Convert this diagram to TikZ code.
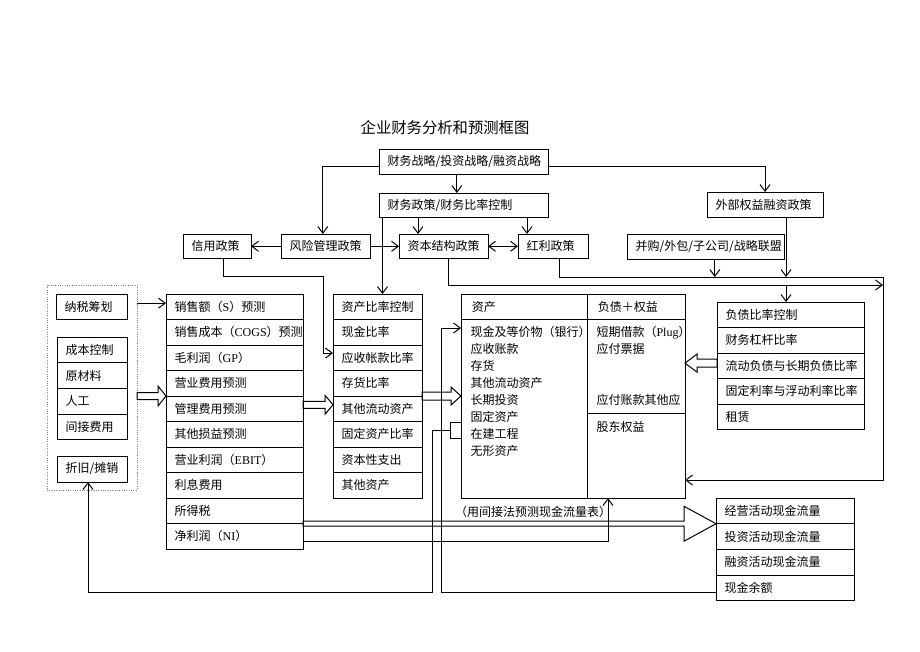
\documentclass[tikz,border=0pt]{standalone}
\usepackage{fontspec}
\setmainfont{Noto Sans CJK SC}
\newfontfamily\enfont{Liberation Serif}
\newcommand\latn[1]{{\enfont #1}}
\usetikzlibrary{arrows.meta}

\tikzset{every picture/.style={line width=0.75pt}}
\tikzset{
  cell/.style={draw, anchor=north west, inner xsep=6.5pt, inner ysep=0pt, outer sep=0pt, align=left},
  topbox/.style={cell, text width=113.75pt},
  isrow/.style={cell, text width=89.75pt, minimum height=19.125pt},
  arrow row/.style={cell, text width=53.75pt, minimum height=19.125pt},
  debtrow/.style={cell, text width=97.25pt, minimum height=19.125pt},
  cfrow/.style={cell, text width=90.5pt, minimum height=19.3pt},
  costrow/.style={cell, text width=39.5pt, minimum height=19.3pt},
  arw/.style={-{Straight Barb[length=5pt,width=7.5pt]}},
  arwboth/.style={{Straight Barb[length=5pt,width=7.5pt]}-{Straight Barb[length=5pt,width=7.5pt]}},
}

\begin{document}
\begin{tikzpicture}[x=0.75pt,y=0.75pt,yscale=-1,xscale=1,font=\fontsize{9}{12.75}\selectfont]
\useasboundingbox (0,0) rectangle (920,651);

% Text Node
\node (title) at (445,128) {\fontsize{11.5}{14}\selectfont 企业财务分析和预测框图};

%Shape: Rectangle (policy boxes)
\node[topbox, minimum height=18.75pt] (strat) at (379,149) {财务战略/投资战略/融资战略};
\node[topbox, minimum height=18pt] (fpol) at (379,193) {财务政策/财务比率控制};
\node[cell, text width=74pt, minimum height=18.75pt] (extq) at (707,192) {外部权益融资政策};
\node[cell, text width=38pt, minimum height=18.4pt] (credit) at (183,234) {信用政策};
\node[cell, text width=53.75pt, minimum height=18.4pt] (risk) at (281,234) {风险管理政策};
\node[cell, text width=53.75pt, minimum height=18.4pt] (capst) at (399,234) {资本结构政策};
\node[cell, text width=39.5pt, minimum height=18.4pt] (divd) at (518,234) {红利政策};
\node[cell, text width=104.75pt, minimum height=18.75pt] (merge) at (627,234) {并购/外包/子公司/战略联盟};

%Shape: Rectangle (dotted frame)
\node[draw, densely dotted, gray, anchor=north west, inner sep=0pt, outer sep=0pt, minimum width=67.5pt, minimum height=153.75pt] (frame) at (47,285) {};
\node[cell, text width=40.25pt, minimum height=18.75pt] (tax) at (56,294) {纳税筹划};
\node[costrow] (cost) at (57,337) {成本控制};
\node[costrow] (raw) at (57,362.75) {原材料};
\node[costrow] (labor) at (57,388.5) {人工};
\node[costrow] (ovh) at (57,414.25) {间接费用};
\node[cell, text width=39.5pt, minimum height=19.5pt] (depr) at (57,456) {折旧/摊销};

%Shape: Rectangle (income statement)
\node[isrow] (sales) at (166,294) {销售额（\latn{S}）预测};
\node[isrow] (cogs) at (166,319.5) {销售成本（\latn{COGS}）预测};
\node[isrow] (gp) at (166,345) {毛利润（\latn{GP}）};
\node[isrow] (opex) at (166,370.5) {营业费用预测};
\node[isrow] (admin) at (166,396) {管理费用预测};
\node[isrow] (other) at (166,421.5) {其他损益预测};
\node[isrow] (ebit) at (166,447) {营业利润（\latn{EBIT}）};
\node[isrow] (intr) at (166,472.5) {利息费用};
\node[isrow] (itax) at (166,498) {所得税};
\node[isrow] (ni) at (166,523.5) {净利润（\latn{NI}）};

%Shape: Rectangle (asset ratios)
\node[arrow row] (arctl) at (333,294) {资产比率控制};
\node[arrow row] (cashr) at (333,319.5) {现金比率};
\node[arrow row] (recr) at (333,345) {应收帐款比率};
\node[arrow row] (invr) at (333,370.5) {存货比率};
\node[arrow row] (oca) at (333,396) {其他流动资产};
\node[arrow row] (far) at (333,421.5) {固定资产比率};
\node[arrow row] (capex) at (333,447) {资本性支出};
\node[arrow row] (otha) at (333,472.5) {其他资产};

%Shape: Rectangle (balance sheet)
\node[draw, anchor=north west, inner sep=0pt, outer sep=0pt, minimum width=168pt, minimum height=153pt] (bs) at (461,294) {};
\draw ([xshift=94.5pt]bs.north west) -- ([xshift=94.5pt]bs.south west);
\draw ([yshift=18.75pt]bs.north west) -- ([yshift=18.75pt]bs.north east);
\draw ([xshift=94.5pt,yshift=89.25pt]bs.north west) -- ([yshift=89.25pt]bs.north east);
\draw ([yshift=19.5pt]bs.west) -- ++(-11,0) -- ++(0,16) -- ++(11,0);
\coordinate (brk) at ([xshift=-8.25pt,yshift=25.5pt]bs.west);
\coordinate (cashin) at ([yshift=25.5pt]bs.north west);

% Text Node
\node[anchor=west] (bsasset) at (467,306.5) {资产};
\node[anchor=west] (bsliab) at (593,306.5) {负债＋权益};
\node[anchor=north west, align=left, inner sep=0pt] (assets) at (470,326) {现金及等价物（银行）\\应收账款\\存货\\其他流动资产\\长期投资\\固定资产\\在建工程\\无形资产};
\node[anchor=north west, align=left, inner sep=0pt] (liab) at (596,326) {短期借款（\latn{Plug}）\\应付票据};
\node[anchor=west, inner sep=0pt] (payab) at (596,400) {应付账款其他应};
\node[anchor=west, inner sep=0pt] (equity) at (596,427) {股东权益};
\node (cfnote) at (533,512) {（用间接法预测现金流量表）};

%Shape: Rectangle (debt ratios)
\node[debtrow] (drctl) at (717,302) {负债比率控制};
\node[debtrow] (lev) at (717,327.5) {财务杠杆比率};
\node[debtrow] (cur) at (717,353) {流动负债与长期负债比率};
\node[debtrow] (fix) at (717,378.5) {固定利率与浮动利率比率};
\node[debtrow] (lease) at (717,404) {租赁};

%Shape: Rectangle (cash flow)
\node[cfrow] (cfo) at (716,498) {经营活动现金流量};
\node[cfrow] (cfi) at (716,523.75) {投资活动现金流量};
\node[cfrow] (cff) at (716,549.5) {融资活动现金流量};
\node[cfrow] (cbal) at (716,575.25) {现金余额};

\coordinate (rtop) at (883,277);
\coordinate (rmid) at (883,285);
\coordinate (mg) at ([xshift=7pt]merge.south);
\coordinate (eq) at ([xshift=15.75pt]extq.south);
\coordinate (cr) at ([xshift=4.5pt]credit.south);
\coordinate (b2) at ([xshift=26.25pt]bs.south);

%Straight Lines
\draw[arw] ([xshift=-5pt]strat.south) -- ([xshift=-5pt]fpol.north);
\draw[arw] ([yshift=3.5pt]strat.west) -| ([xshift=-2pt]risk.north);
\draw[arw] ([yshift=3.5pt]strat.east) -| (extq.north);
\draw[arw] ([xshift=14.25pt]capst.north west |- fpol.south) -- ([xshift=14.25pt]capst.north west);
\draw[arw] ([xshift=6.75pt]divd.north west |- fpol.south) -- ([xshift=6.75pt]divd.north west);
\draw[arw] ([xshift=3.75pt]arctl.north |- fpol.south) -- ([xshift=3.75pt]arctl.north);
\draw[arw] (risk.west) -- (credit.east);
\draw[arw] (risk.east) -- (capst.west);
\draw[arwboth] (capst.east) -- (divd.west);
\draw[arw] (cr) -- ++(0,18) -- ++(100,0) |- ([yshift=-3.5pt]recr.west);
\draw[arw] ([xshift=3.4pt]capst.south) |- (rmid);
\draw[arw] ([xshift=4.5pt]divd.south) |- (rtop) |- ([yshift=-13.5pt]bs.south east);
\draw[arw] (mg) -- (mg |- rtop);
\draw[arw] (eq) -- (eq |- rtop);
\draw[arw] (eq |- rmid) -- (eq |- drctl.north);
\draw[arw] ([yshift=-2.5pt]tax.east -| frame.east) -- ([yshift=-2.5pt]tax.east -| sales.west);
\draw[arw] ([yshift=4pt]ni.east) -| (b2);
\draw[arw] ([yshift=3pt]cbal.west) -| ([xshift=-15pt]cashin) -- (cashin);
\draw[arw] (brk) -- ++(-18,0) -- ++(0,162) -| ([xshift=-3pt]depr.south);

%Shape: Right Arrow (hollow)
\draw (admin.north west) -- ++(-8,-10) -- ++(0,6.5) -- ++(-21,0) -- ++(0,7) -- ++(21,0) -- ++(0,6.5) -- cycle;
\draw ([yshift=-3pt]oca.west) -- ++(-8,-9.5) -- ++(0,6) -- ++(-22,0) -- ++(0,7) -- ++(22,0) -- ++(0,6) -- cycle;
\draw (bs.west) -- ++(-10,-9) -- ++(0,5) -- ++(-29,0) -- ++(0,8) -- ++(29,0) -- ++(0,5) -- cycle;
\draw ([yshift=-2pt]cur.west -| bs.east) -- ++(12,-9) -- ++(0,5) -- ++(20,0) -- ++(0,8) -- ++(-20,0) -- ++(0,5) -- cycle;
\draw (cfo.south west) -- ++(-32,-17.5) -- ++(0,15) -- ++(-381,0) -- ++(0,5) -- ++(381,0) -- ++(0,15) -- cycle;

\end{tikzpicture}
\end{document}
